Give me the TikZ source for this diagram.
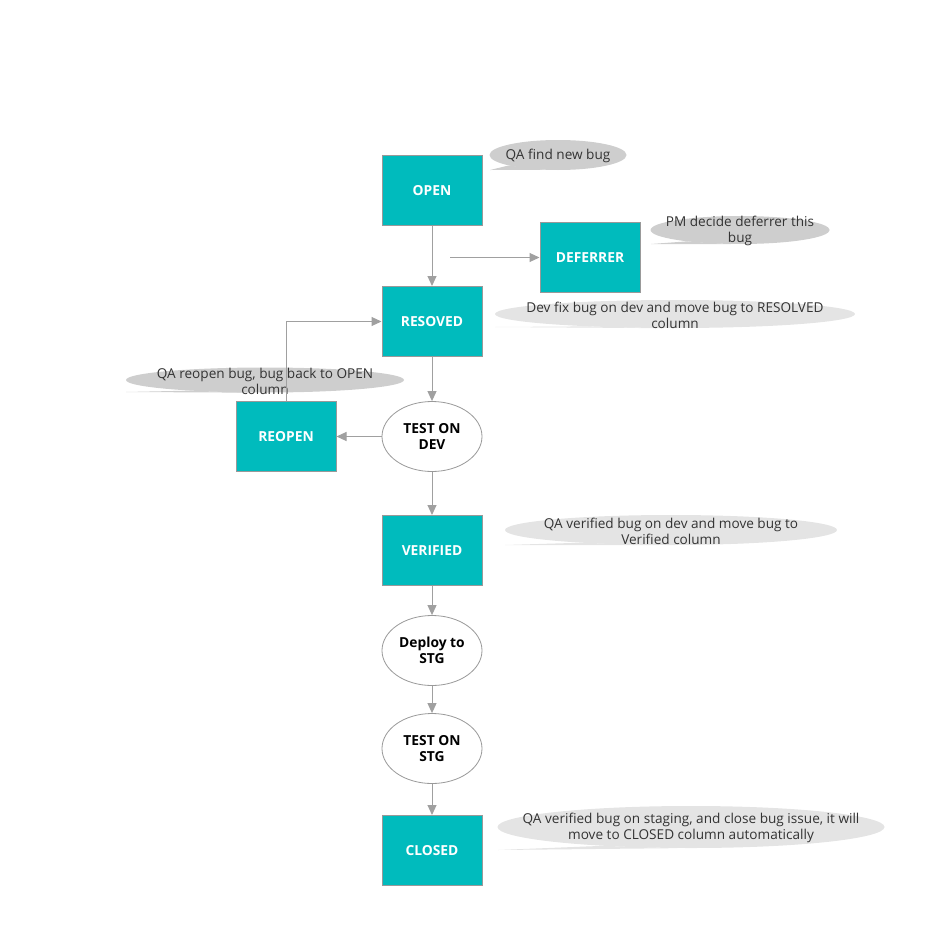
\documentclass[tikz,border=0pt]{standalone}
\usepackage{fontspec}
\setmainfont{Open Sans}
\usetikzlibrary{arrows.meta,shapes.geometric}
\definecolor{teal}{RGB}{0,187,189}
\definecolor{edgegray}{RGB}{160,160,160}
\definecolor{boxborder}{RGB}{153,153,153}
\definecolor{notedark}{RGB}{206,206,206}
\definecolor{notelight}{RGB}{228,228,228}
\definecolor{notetext}{RGB}{51,51,51}
\tikzset{
  statebox/.style={rectangle, draw=boxborder, line width=1pt, fill=teal,
    minimum width=100pt, minimum height=70pt, inner sep=0pt,
    text=white, font=\fontsize{13.8}{16}\selectfont\bfseries},
  stepoval/.style={ellipse, draw=boxborder, line width=0.8pt, fill=white,
    minimum width=100pt, minimum height=70pt, inner sep=0pt, align=center,
    text=black, font=\fontsize{13.8}{16}\selectfont\bfseries},
  flow/.style={draw=edgegray, line width=1pt,
    -{Triangle[length=10pt,width=9pt,fill=edgegray]}},
  bubble/.style={ellipse, inner sep=0pt, draw=none},
  bubbletext/.style={align=center, text=notetext, inner sep=0pt, yshift=-1pt,
    font=\fontsize{13.6}{16}\selectfont},
}
\begin{document}
\begin{tikzpicture}[x=1pt,y=-1pt]
\useasboundingbox (0,0) rectangle (944,947);

% note bubbles: an ellipse plus a thin tail to its lower left
\node[bubble, fill=notedark, minimum width=137pt, minimum height=30pt] (n1) at (558,155) {};
\fill[notedark] (n1.192) -- (490,170) -- (n1.232) -- cycle;
\node[bubbletext] (t1) at (n1.center) {QA find new bug};

\node[bubble, fill=notedark, minimum width=179pt, minimum height=28pt] (n2) at (740,230) {};
\fill[notedark] (n2.192) -- (651,244) -- (n2.237) -- cycle;
\node[bubbletext] (t2) at (n2.center) {PM decide deferrer this\\bug};

\node[bubble, fill=notelight, minimum width=360pt, minimum height=28pt] (n3) at (675,314) {};
\fill[notelight] (n3.188) -- (495,327) -- (n3.232) -- cycle;
\node[bubbletext] (t3) at (n3.center) {Dev fix bug on dev and move bug to RESOLVED\\column};

\node[bubble, fill=notedark, minimum width=278pt, minimum height=25pt] (n4) at (265,380) {};
\fill[notedark] (n4.188) -- (126,392) -- (n4.232) -- cycle;
\node[bubbletext] (t4) at (n4.center) {QA reopen bug, bug back to OPEN\\column};

\node[bubble, fill=notelight, minimum width=332pt, minimum height=30pt] (n5) at (671,530) {};
\fill[notelight] (n5.188) -- (505,545) -- (n5.232) -- cycle;
\node[bubbletext] (t5) at (n5.center) {QA verified bug on dev and move bug to\\Verified column};

\node[bubble, fill=notelight, minimum width=387pt, minimum height=42pt] (n6) at (691,827) {};
\fill[notelight] (n6.192) -- (498,850) -- (n6.237) -- cycle;
\node[bubbletext] (t6) at (n6.center) {QA verified bug on staging, and close bug issue, it will\\move to CLOSED column automatically};

% workflow states
\node[statebox] (open) at (432,190.5) {OPEN};
\node[statebox] (deferrer) at (590,257.5) {DEFERRER};
\node[statebox] (resoved) at (432,321.5) {RESOVED};
\node[stepoval] (testdev) at (432,436.5) {TEST ON\\DEV};
\node[statebox] (reopen) at (286,436.5) {REOPEN};
\node[statebox] (verified) at (432,550.5) {VERIFIED};
\node[stepoval] (deploy) at (432,650.5) {Deploy to\\STG};
\node[stepoval] (teststg) at (432,748.5) {TEST ON\\STG};
\node[statebox] (closed) at (432,850.5) {CLOSED};

\coordinate (deferstart) at (450,257.5);

% transitions
\draw[flow] (open) -- (resoved);
\draw[flow] (deferstart) -- (deferrer.west);
\draw[flow] (resoved) -- (testdev);
\draw[flow] (testdev) -- (reopen);
\draw[flow] (reopen.north) |- (resoved.west);
\draw[flow] (testdev) -- (verified);
\draw[flow] (verified) -- (deploy);
\draw[flow] (deploy) -- (teststg);
\draw[flow] (teststg) -- (closed);
\end{tikzpicture}
\end{document}
